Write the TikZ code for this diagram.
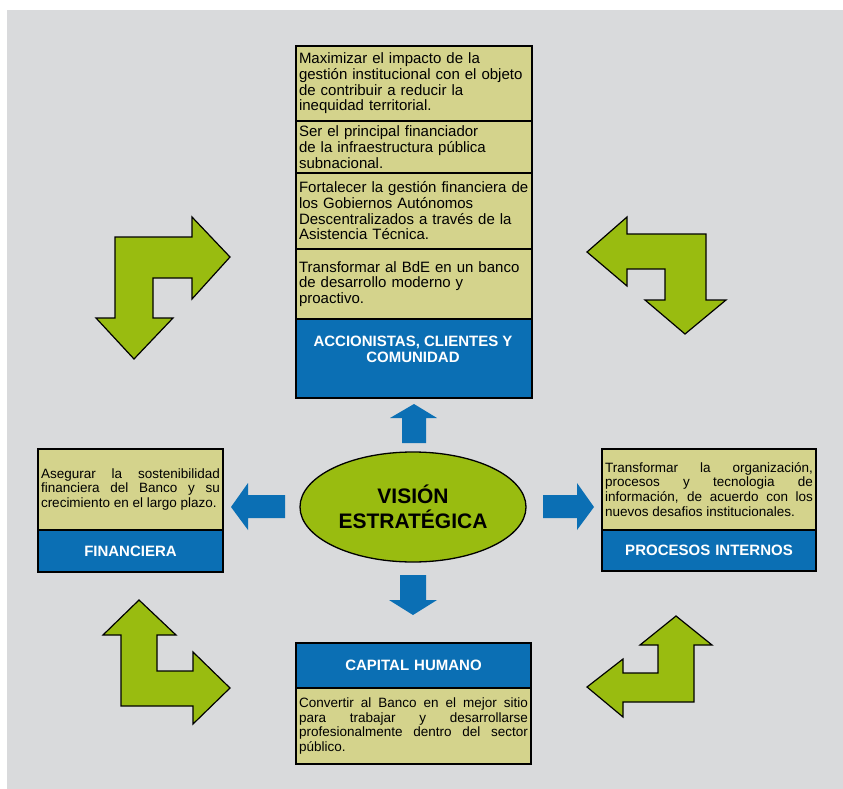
\documentclass[tikz,border=0pt]{standalone}
\usepackage{fontspec}
\setmainfont{Liberation Sans}
\usetikzlibrary{shapes.geometric}

\definecolor{fondo}{RGB}{217,218,220}
\definecolor{caqui}{RGB}{212,211,140}
\definecolor{azul}{RGB}{11,111,180}
\definecolor{verde}{RGB}{153,188,16}

\begin{document}
\begin{tikzpicture}[x=1pt, y=-1pt,
    celda/.style={draw, line width=2pt, fill=caqui, anchor=north west, inner xsep=3pt, inner ysep=0pt},
    cuerpo/.style={celda, align=left, font=\fontsize{15}{15.7}\selectfont},
    lado/.style={celda, align=justify, font=\fontsize{13.5}{14.9}\selectfont},
    titulo/.style={celda, fill=azul, text=white, align=center, font=\fontsize{15}{16}\selectfont\bfseries},
    flecha/.style={fill=azul},
    giro/.style={draw, line width=1.2pt, fill=verde, line join=miter}]
  \useasboundingbox (0,0) rectangle (843,789);
  \fill[fondo] (7,10) rectangle (843,789);

  % perspectiva de accionistas, clientes y comunidad
  \node[cuerpo, text width=230, minimum height=75] (t1) at (295,45)
    {Maximizar el impacto de la\\gestión institucional con el objeto\\de contribuir a reducir la\\inequidad territorial.};
  \node[cuerpo, text width=230, minimum height=52] (t2) at (295,120)
    {Ser el principal financiador\\de la infraestructura pública\\subnacional.};
  \node[cuerpo, text width=230, minimum height=76] (t3) at (295,172)
    {Fortalecer la gestión financiera de\\los Gobiernos Autónomos\\Descentralizados a través de la\\Asistencia Técnica.};
  \node[cuerpo, text width=230, minimum height=70] (t4) at (295,248)
    {Transformar al BdE en un banco\\de desarrollo moderno y\\proactivo.};
  \node[titulo, text width=230, minimum height=79] (tb) at (295,318) {};
  \node[text=white, align=center, font=\fontsize{15}{16}\selectfont\bfseries] (tbt) at (413,349)
    {ACCIONISTAS, CLIENTES Y\\COMUNIDAD};

  % financiera
  \node[lado, text width=179, minimum height=81] (f1) at (37,448)
    {Asegurar la sostenibilidad\linebreak financiera del Banco y su\linebreak crecimiento en el largo plazo.};
  \node[titulo, text width=179, minimum height=42] (fb) at (37,529) {FINANCIERA};

  % procesos internos
  \node[lado, text width=208, minimum height=81] (p1) at (601,448)
    {Transformar la organización,\linebreak procesos y tecnologia de\linebreak información, de acuerdo con los\linebreak nuevos desafios institucionales.};
  \node[titulo, text width=208, minimum height=41] (pb) at (601,529) {PROCESOS INTERNOS};

  % capital humano
  \node[titulo, text width=229, minimum height=45] (hb) at (295,642) {CAPITAL HUMANO};
  \node[lado, text width=229, minimum height=76] (h1) at (295,687)
    {Convertir al Banco en el mejor sitio\linebreak para trabajar y desarrollarse\linebreak profesionalmente dentro del sector\linebreak público.};

  % vision
  \node[ellipse, draw, line width=1.3pt, fill=verde, minimum width=226, minimum height=110,
    inner sep=0pt, align=center, font=\fontsize{21}{25}\selectfont\bfseries] (vision) at (413,507)
    {VISIÓN\\ESTRATÉGICA};

  % flechas azules
  \fill[flecha] (414,404) -- (437,418) -- (426,418) -- (426,443) -- (402,443) -- (402,418) -- (390,418) -- cycle;
  \fill[flecha] (413,615) -- (437,600) -- (426,600) -- (426,575) -- (400,575) -- (400,600) -- (389,600) -- cycle;
  \fill[flecha] (231,507) -- (248,483) -- (248,495) -- (285,495) -- (285,518) -- (248,518) -- (248,530) -- cycle;
  \fill[flecha] (594,507) -- (577,483) -- (577,495) -- (543,495) -- (543,518) -- (577,518) -- (577,530) -- cycle;

  % flechas verdes
  \draw[giro] (115,237) -- (192,237) -- (192,217) -- (230,257) -- (192,299) -- (192,278) -- (153,278)
    -- (153,318) -- (173,318) -- (134,359) -- (96,318) -- (115,318) -- cycle;
  \draw[giro] (587,252) -- (627,217) -- (627,234) -- (706,234) -- (706,300) -- (726,300) -- (685,334)
    -- (645,300) -- (665,300) -- (665,269) -- (627,269) -- (627,286) -- cycle;
  \draw[giro] (139,600) -- (176,635) -- (157,635) -- (157,671) -- (193,671) -- (193,652) -- (230,688)
    -- (193,724) -- (193,706) -- (121,706) -- (121,635) -- (103,635) -- cycle;
  \draw[giro] (676,616) -- (712,645) -- (694,645) -- (694,702) -- (623,702) -- (623,717) -- (587,687)
    -- (623,659) -- (623,673) -- (658,673) -- (658,645) -- (640,645) -- cycle;
\end{tikzpicture}
\end{document}
